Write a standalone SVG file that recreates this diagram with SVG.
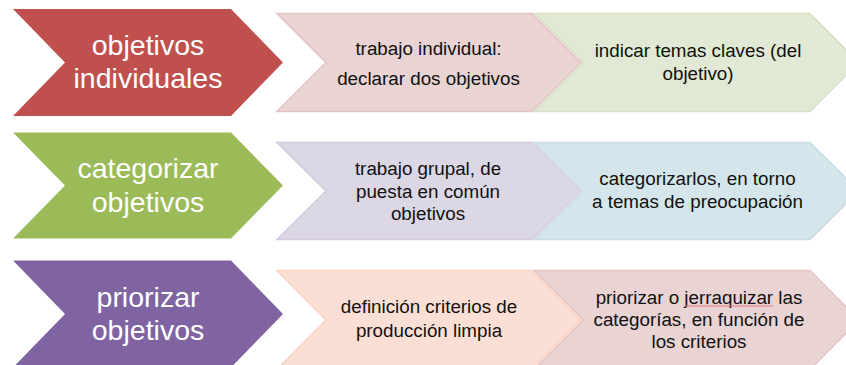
<svg xmlns="http://www.w3.org/2000/svg" width="846" height="365" viewBox="0 0 846 365">
<style>
  text { font-family: "Liberation Sans", Arial, sans-serif; text-anchor: middle; }
  .big { font-size: 28.5px; fill: #ffffff; }
  .sm { font-size: 18.8px; fill: #111111; }
  .s { stroke-width: 1.5; stroke-linejoin: miter; }
  .red { fill: #C0504D; }
  .grn { fill: #9BBB59; }
  .pur { fill: #8064A2; }
  .pink { fill: #E9D3D3; stroke: #E2C3C3; }
  .lgrn { fill: #E1E9D5; stroke: #D7E1C8; }
  .lav { fill: #DCD7E5; stroke: #D2CBDF; }
  .lblu { fill: #D4E5EB; stroke: #C8DDE5; }
  .peach { fill: #FCDFD4; stroke: #F9D2C3; }
</style>
<rect width="846" height="365" fill="#ffffff"/>
<g id="connectors"/>

<g id="n1-objetivos-individuales">
  <path class="red" d="M13,9 L231,9 L283,62.5 L231,116 L13,116 L65,62.5 Z"/>
  <text class="big" x="148" y="55">objetivos</text>
  <text class="big" x="148" y="88">individuales</text>
</g>
<g id="n1-trabajo-individual">
  <path class="pink s" d="M277,13.5 L532,13.5 L581,62.5 L532,111.5 L277,111.5 L326,62.5 Z"/>
  <text class="sm" x="428.5" y="55">trabajo individual:</text>
  <text class="sm" x="428.5" y="85">declarar dos objetivos</text>
</g>
<g id="n1-indicar-temas">
  <path class="lgrn s" d="M534.5,13.5 L810,13.5 L859,62.5 L810,111.5 L534.5,111.5 L583.5,62.5 Z"/>
  <text class="sm" x="698" y="57">indicar temas claves (del</text>
  <text class="sm" x="698" y="80">objetivo)</text>
</g>

<g id="n2-categorizar-objetivos">
  <path class="grn" d="M13,132.5 L231,132.5 L283,185.5 L231,238.5 L13,238.5 L65,185.5 Z"/>
  <text class="big" x="148" y="178">categorizar</text>
  <text class="big" x="148" y="212">objetivos</text>
</g>
<g id="n2-trabajo-grupal">
  <path class="lav s" d="M277,142.5 L532,142.5 L581,191 L532,239.5 L277,239.5 L326,191 Z"/>
  <text class="sm" x="428" y="175">trabajo grupal, de</text>
  <text class="sm" x="428" y="197.5">puesta en común</text>
  <text class="sm" x="428" y="220">objetivos</text>
</g>
<g id="n2-categorizarlos">
  <path class="lblu s" d="M534.5,142.5 L810,142.5 L859,191 L810,239.5 L534.5,239.5 L583.5,191 Z"/>
  <text class="sm" x="697.5" y="185">categorizarlos, en torno</text>
  <text class="sm" x="697.5" y="208">a temas de preocupación</text>
</g>

<g id="n3-priorizar-objetivos">
  <path class="pur" d="M13,260.5 L231,260.5 L283,314 L231,367.5 L13,367.5 L65,314 Z"/>
  <text class="big" x="148" y="307">priorizar</text>
  <text class="big" x="148" y="340">objetivos</text>
</g>
<g id="n3-definicion-criterios">
  <path class="peach s" d="M277,270.5 L532,270.5 L581,320 L532,369.5 L277,369.5 L326,320 Z"/>
  <text class="sm" x="429" y="313">definición criterios de</text>
  <text class="sm" x="429" y="336.5">producción limpia</text>
</g>
<g id="n3-priorizar-jerarquizar">
  <path class="pink s" d="M534.5,270.5 L810,270.5 L859,320 L810,369.5 L534.5,369.5 L583.5,320 Z"/>
  <text class="sm" x="699" y="304">priorizar o jerraquizar las</text>
  <line x1="684" y1="306" x2="773" y2="306" stroke="#E57B7B" stroke-width="1"/>
  <text class="sm" x="699" y="326.2">categorías, en función de</text>
  <text class="sm" x="699" y="348.2">los criterios</text>
</g>
</svg>
